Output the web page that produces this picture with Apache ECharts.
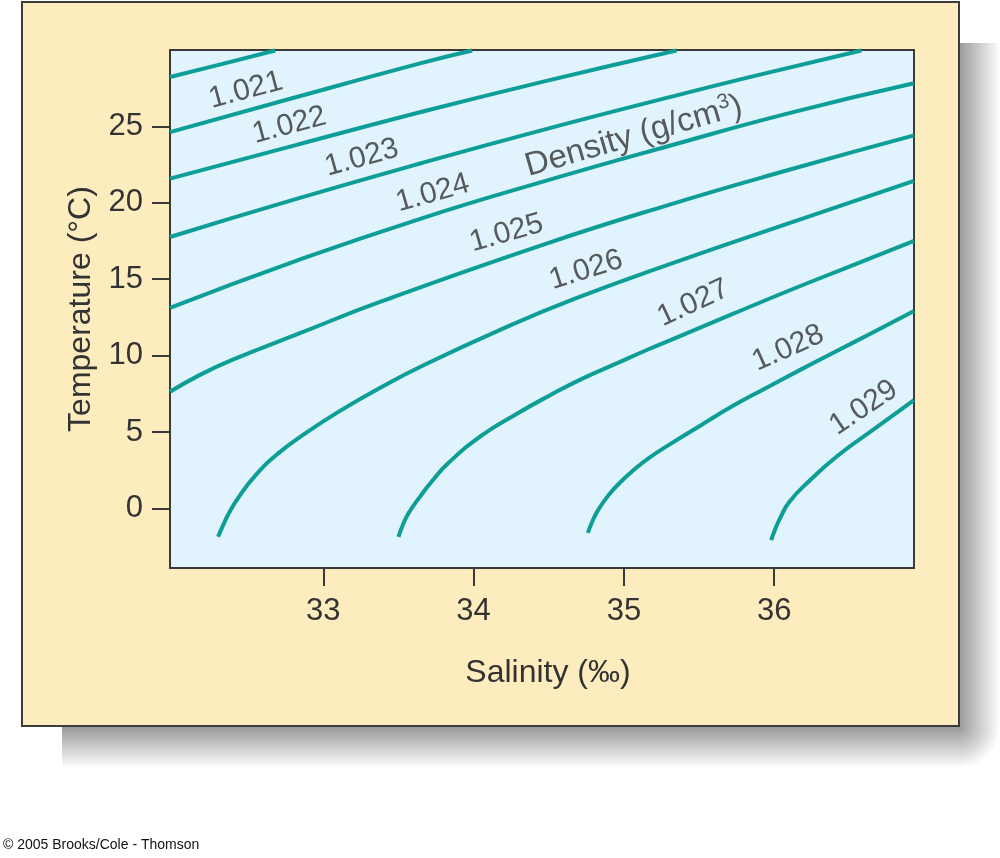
<!DOCTYPE html>
<html>
<head>
<meta charset="utf-8">
<script src="https://cdn.jsdelivr.net/npm/echarts@6/dist/echarts.min.js"></script>
<style>
html,body{margin:0;padding:0;background:#ffffff;}
#chart{width:1000px;height:858px;}
</style>
</head>
<body>
<div id="chart"></div>
<script>
// ---- data ----
const salinityTicks = [33, 34, 35, 36];
const temperatureTicks = [0, 5, 10, 15, 20, 25];
const densityLevels = ['1.020', '1.021', '1.022', '1.023', '1.024', '1.025', '1.026', '1.027', '1.028', '1.029'];

// isopycnals: [salinity (‰), temperature (°C)]
const iso1020 = [[31.98, 28.23], [32.33, 29.09], [32.68, 29.97]];
const iso1021 = [[31.98, 24.63], [32.81, 26.89], [33.65, 29.14], [33.99, 29.97]];
const iso1022 = [[31.98, 21.58], [32.81, 23.76], [33.65, 25.94], [34.45, 27.90], [35.35, 29.97]];
const iso1023 = [[31.98, 17.76], [32.81, 20.22], [33.65, 22.59], [34.45, 24.74], [35.31, 26.93], [35.87, 28.31], [36.58, 29.97]];
const iso1024 = [[31.98, 13.13], [32.81, 16.17], [33.65, 18.97], [34.45, 21.35], [35.31, 23.75], [36.10, 25.87], [36.93, 27.82]];
const iso1025 = [[31.98, 7.63], [32.17, 8.69], [32.39, 9.70], [32.84, 11.45], [33.39, 13.56], [34.45, 17.22], [35.31, 19.90], [36.10, 22.16], [36.93, 24.41]];
const iso1026 = [[32.30, -1.86], [32.33, -1.18], [32.37, -0.35], [32.435, 0.71], [32.55, 2.18], [32.70, 3.60], [32.88, 4.91], [33.10, 6.32], [33.37, 7.85], [33.65, 9.29], [34.18, 11.70], [34.67, 13.71], [35.31, 16.00], [36.10, 18.67], [36.93, 21.43]];
const iso1027 = [[33.50, -1.86], [33.525, -1.18], [33.565, -0.35], [33.645, 0.79], [33.72, 1.74], [33.83, 2.95], [34.05, 4.75], [34.28, 6.15], [34.50, 7.36], [34.72, 8.48], [34.94, 9.44], [35.16, 10.40], [35.31, 11.01], [35.72, 12.71], [36.10, 14.26], [36.50, 15.83], [36.93, 17.51]];
const iso1028 = [[34.76, -1.60], [34.787, -0.92], [34.827, -0.13], [34.894, 0.82], [34.973, 1.68], [35.07, 2.56], [35.17, 3.33], [35.31, 4.22], [35.51, 5.43], [35.72, 6.68], [35.94, 7.85], [36.17, 9.05], [36.39, 10.17], [36.64, 11.43], [36.93, 12.92]];
const iso1029 = [[35.98, -2.07], [36.003, -1.45], [36.037, -0.69], [36.10, 0.42], [36.24, 1.86], [36.42, 3.43], [36.65, 5.09], [36.93, 7.08]];

const isopycnals = [iso1020, iso1021, iso1022, iso1023, iso1024, iso1025, iso1026, iso1027, iso1028, iso1029];

// contour label texts and where they sit (data coordinates) along their lines
const labelTexts = ['1.021', '1.022', '1.023', '1.024', 'Density (g/cm{s|3})', '1.025', '1.026', '1.027', '1.028', '1.029'];
const labelAnchors = [[32.485, 27.36], [32.774, 25.07], [33.256, 22.94], [33.728, 20.62], [35.066, 24.35], [34.219, 18.01], [34.748, 15.59], [35.462, 13.43], [36.093, 10.48], [36.595, 6.59]];
const labelAngles = [15, 15, 15.5, 16, 16, 16, 17.5, 25, 24, 34];

// ---- styling ----
const FONT = '"Liberation Sans", Arial, Helvetica, sans-serif';
const TEXT = '#333333';
const TEAL = '#0c9e97';

const lineSeries = isopycnals.map((d, i) => ({
  type: 'line',
  name: densityLevels[i],
  data: d,
  showSymbol: false,
  symbol: 'none',
  smooth: 0.5,
  lineStyle: { color: TEAL, width: 4 },
  silent: true,
  z: 3
}));

const labelSeries = {
  type: 'scatter',
  symbolSize: 0,
  silent: true,
  z: 4,
  data: labelAnchors.map((p, i) => {
    const isTitle = labelTexts[i].indexOf('Density') === 0;
    return {
      value: p,
      label: {
        show: true,
        position: 'inside',
        formatter: labelTexts[i],
        rotate: labelAngles[i],
        align: 'center',
        verticalAlign: 'middle',
        color: TEXT,
        fontFamily: FONT,
        fontSize: isTitle ? 33 : 30,
        rich: { s: { fontSize: 21, verticalAlign: 'top', color: TEXT, fontFamily: FONT, padding: [0, 0, 16, 0] } }
      }
    };
  })
};

const chart = echarts.init(document.getElementById('chart'), null, { renderer: 'canvas' });

chart.setOption({
  backgroundColor: '#ffffff',
  animation: false,
  graphic: {
    elements: [
      { type: 'rect', z: -20, shape: { x: 62, y: 727, width: 897, height: 41 },
        style: { fill: { type: 'linear', x: 0, y: 0, x2: 0, y2: 1, colorStops: [{ offset: 0, color: '#9a9a9a' }, { offset: 1, color: '#ffffff' }] } } },
      { type: 'rect', z: -20, shape: { x: 959, y: 43, width: 41, height: 684 },
        style: { fill: { type: 'linear', x: 0, y: 0, x2: 1, y2: 0, colorStops: [{ offset: 0, color: '#9a9a9a' }, { offset: 1, color: '#ffffff' }] } } },
      { type: 'rect', z: -20, shape: { x: 959, y: 727, width: 41, height: 41 },
        style: { fill: { type: 'radial', x: 0, y: 0, r: 1, colorStops: [{ offset: 0, color: '#9a9a9a' }, { offset: 1, color: '#ffffff' }] } } },
      { type: 'rect', z: -10, shape: { x: 22, y: 2, width: 937, height: 724 },
        style: { fill: '#fdecbe', stroke: '#3c3c3c', lineWidth: 2 } },
      { type: 'text', z: 10, left: 3, top: 838,
        style: { text: '© 2005 Brooks/Cole - Thomson', fill: '#111', font: '14px ' + FONT } }
    ]
  },
  grid: {
    left: 170, top: 50, width: 744, height: 518,
    show: true,
    backgroundColor: '#e1f3fc',
    borderColor: '#3a3a3a',
    borderWidth: 2,
    containLabel: false
  },
  xAxis: {
    type: 'value',
    min: 31.98,
    max: 36.93,
    position: 'bottom',
    axisLine: { show: false, onZero: false },
    splitLine: { show: false },
    axisTick: { show: true, inside: false, length: 18, customValues: salinityTicks, lineStyle: { color: '#3a3a3a', width: 2 } },
    axisLabel: { show: true, customValues: salinityTicks, margin: 28, fontSize: 31, color: TEXT, fontFamily: FONT },
    name: 'Salinity (‰)',
    nameLocation: 'middle',
    nameGap: 89,
    nameTextStyle: { fontSize: 32, color: TEXT, fontFamily: FONT, padding: [0, 0, 0, 12] }
  },
  yAxis: {
    type: 'value',
    min: -3.9,
    max: 30,
    position: 'left',
    axisLine: { show: false, onZero: false },
    splitLine: { show: false },
    axisTick: { show: true, inside: false, length: 18, customValues: temperatureTicks, lineStyle: { color: '#3a3a3a', width: 2 } },
    axisLabel: { show: true, customValues: temperatureTicks, margin: 27, fontSize: 31, color: TEXT, fontFamily: FONT },
    name: 'Temperature (°C)',
    nameLocation: 'middle',
    nameGap: 73,
    nameRotate: 90,
    nameTextStyle: { fontSize: 32, color: TEXT, fontFamily: FONT }
  },
  series: [...lineSeries, labelSeries]
});
</script>
</body>
</html>
